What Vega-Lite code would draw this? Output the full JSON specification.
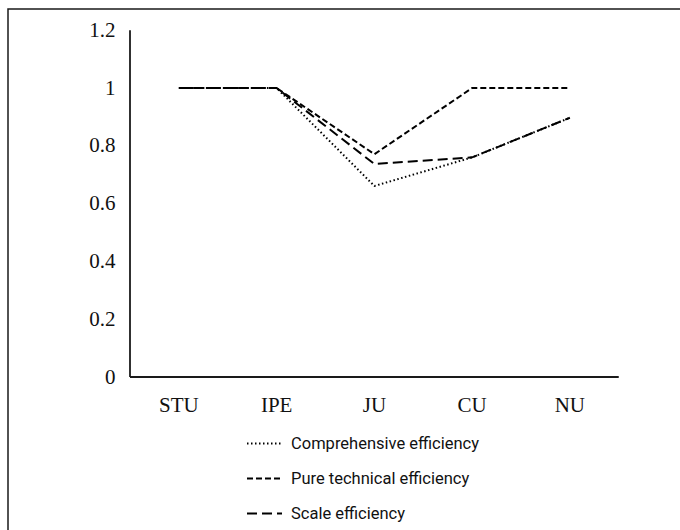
{
  "$schema": "https://vega.github.io/schema/vega-lite/v6.json",
  "width": 674,
  "height": 523,
  "autosize": {"type": "none"},
  "padding": {"left": 8, "top": 9, "right": -2, "bottom": -2},
  "background": "white",
  "config": {"view": {"stroke": "#1a1a1a", "strokeWidth": 1.5}},
  "layer": [
    {
      "data": {"values": [
        {"unit": "STU", "series": "Comprehensive efficiency", "value": 1},
        {"unit": "IPE", "series": "Comprehensive efficiency", "value": 1},
        {"unit": "JU", "series": "Comprehensive efficiency", "value": 0.661},
        {"unit": "CU", "series": "Comprehensive efficiency", "value": 0.76},
        {"unit": "NU", "series": "Comprehensive efficiency", "value": 0.897},
        {"unit": "STU", "series": "Pure technical efficiency", "value": 1},
        {"unit": "IPE", "series": "Pure technical efficiency", "value": 1},
        {"unit": "JU", "series": "Pure technical efficiency", "value": 0.771},
        {"unit": "CU", "series": "Pure technical efficiency", "value": 1},
        {"unit": "NU", "series": "Pure technical efficiency", "value": 1},
        {"unit": "STU", "series": "Scale efficiency", "value": 1},
        {"unit": "IPE", "series": "Scale efficiency", "value": 1},
        {"unit": "JU", "series": "Scale efficiency", "value": 0.737},
        {"unit": "CU", "series": "Scale efficiency", "value": 0.76},
        {"unit": "NU", "series": "Scale efficiency", "value": 0.897}
      ]},
      "mark": {"type": "line", "color": "black", "strokeWidth": 2},
      "encoding": {
        "x": {
          "field": "unit", "type": "nominal",
          "sort": ["STU", "IPE", "JU", "CU", "NU"],
          "scale": {"type": "band", "paddingInner": 0, "paddingOuter": 0.9476, "align": 0.6586},
          "axis": {"title": null, "domain": false, "ticks": false, "tickSize": 0, "grid": false,
                   "labelPadding": 17, "offset": -155, "labelAngle": 0,
                   "labelFont": "Liberation Serif", "labelFontSize": 21, "labelColor": "#111"}
        },
        "y": {
          "field": "value", "type": "quantitative",
          "scale": {"domain": [-0.5363, 1.2734], "nice": false, "zero": false},
          "axis": {"title": null, "domain": false, "ticks": false, "tickSize": 0, "grid": false,
                   "labelPadding": 15, "offset": -122,
                   "values": [0, 0.2, 0.4, 0.6, 0.8, 1, 1.2], "format": "~g",
                   "labelFont": "Liberation Serif", "labelFontSize": 21, "labelColor": "#111"}
        },
        "strokeDash": {
          "field": "series", "type": "nominal",
          "scale": {"domain": ["Comprehensive efficiency", "Pure technical efficiency", "Scale efficiency"],
                    "range": [[1.5, 2.5], [6, 3], [10, 5]]},
          "legend": {"title": null, "orient": "none", "legendX": 238, "legendY": 416,
                     "direction": "vertical", "symbolType": "stroke", "symbolSize": 1225,
                     "symbolStrokeWidth": 2, "symbolStrokeColor": "black",
                     "labelFont": "Roboto", "labelFontSize": 16.5, "labelColor": "#111",
                     "labelOffset": 8, "rowPadding": 8, "padding": 0, "labelLimit": 400}
        }
      }
    },
    {
      "data": {"values": [{}]},
      "mark": {"type": "rule", "color": "#1a1a1a", "strokeWidth": 1.8},
      "encoding": {
        "x": {"datum": -0.5, "type": "quantitative",
              "scale": {"domain": [-1.7481, 5.1471], "nice": false, "zero": false}, "axis": null},
        "x2": {"datum": 4.5},
        "y": {"datum": 0, "type": "quantitative",
              "scale": {"domain": [-0.5363, 1.2734], "nice": false, "zero": false}, "axis": null}
      }
    },
    {
      "data": {"values": [{}]},
      "mark": {"type": "rule", "color": "#1a1a1a", "strokeWidth": 1.8},
      "encoding": {
        "x": {"datum": -0.5, "type": "quantitative",
              "scale": {"domain": [-1.7481, 5.1471], "nice": false, "zero": false}, "axis": null},
        "y": {"datum": 0, "type": "quantitative",
              "scale": {"domain": [-0.5363, 1.2734], "nice": false, "zero": false}, "axis": null},
        "y2": {"datum": 1.2}
      }
    }
  ],
  "resolve": {"scale": {"x": "independent", "y": "independent"}}
}
